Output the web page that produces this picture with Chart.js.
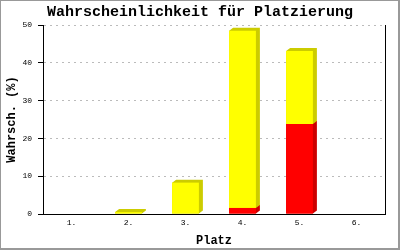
<!DOCTYPE html>
<html>
<head>
<meta charset="utf-8">
<script src="https://cdn.jsdelivr.net/npm/chart.js@4"></script>
<style>
  html,body{margin:0;padding:0;background:#fff;}
  #wrap{width:400px;height:250px;}
</style>
</head>
<body>
<div id="wrap"><canvas id="myChart" width="400" height="250"></canvas></div>
<script>
'use strict';

// data
let places=['1.','2.','3.','4.','5.','6.'];
let redValues=[0,0,0,1.6,23.8,0];
let yellowValues=[0,0.5,8.3,46.9,19.3,0];
let yTicks=[0,10,20,30,40,50];

let mono='"Liberation Mono", "DejaVu Sans Mono", monospace';

// fake 3d sides behind each bar
let depthPlugin={
    id:'depth',
    beforeDatasetsDraw(chart){
        let ctx=chart.ctx;
        let dx=4, dy=3;
        chart.data.datasets.forEach(function(ds,i){
            let meta=chart.getDatasetMeta(i);
            meta.data.forEach(function(bar){
                let p=bar.getProps(['x','y','base','width'],true);
                let l=p.x-p.width/2, r=p.x+p.width/2;
                let t=Math.min(p.y,p.base), b=Math.max(p.y,p.base);
                if(b-t<0.5) return;
                ctx.save();
                ctx.fillStyle=ds.sideColor;
                ctx.beginPath();
                ctx.moveTo(l,t);
                ctx.lineTo(l+dx,t-dy);
                ctx.lineTo(r+dx,t-dy);
                ctx.lineTo(r+dx,b-dy);
                ctx.lineTo(r,b);
                ctx.lineTo(l,b);
                ctx.closePath();
                ctx.fill();
                ctx.restore();
            });
        });
    },
    afterDraw(chart){
        let ctx=chart.ctx;
        ctx.save();
        // gray outer frame
        ctx.fillStyle='#999';
        ctx.fillRect(0,0,400,1);
        ctx.fillRect(0,0,1,250);
        ctx.fillRect(398,0,2,250);
        ctx.fillRect(0,248,400,2);
        ctx.restore();
    }
};

let ctx=document.getElementById('myChart');
let myChart=new Chart(ctx,{
    type:'bar',
    data:{
        labels:places,
        datasets:[{
            label:'rot',
            data:redValues,
            backgroundColor:'#ff0000',
            sideColor:'#cc0000',
            barPercentage:0.47,
            categoryPercentage:1
        },{
            label:'gelb',
            data:yellowValues,
            backgroundColor:'#ffff00',
            sideColor:'#cccc00',
            barPercentage:0.47,
            categoryPercentage:1
        }]
    },
    options:{
        responsive:false,
        animation:false,
        layout:{padding:0},
        plugins:{
            legend:{display:false},
            tooltip:{enabled:false},
            title:{
                display:true,
                text:'Wahrscheinlichkeit für Platzierung',
                color:'#000',
                font:{family:mono,size:15,weight:'bold',lineHeight:1},
                padding:{top:5,bottom:5}
            }
        },
        scales:{
            x:{
                stacked:true,
                grid:{display:false,drawTicks:false},
                border:{display:true,color:'#000',width:1},
                ticks:{color:'#000',font:{family:mono,size:8},padding:4},
                title:{
                    display:true,
                    text:'Platz',
                    color:'#000',
                    font:{family:mono,size:12,weight:'bold'},
                    padding:{top:2,bottom:2}
                },
                afterFit(scale){scale.height=36;}
            },
            y:{
                stacked:true,
                min:0,
                max:50,
                afterBuildTicks(scale){scale.ticks=yTicks.map(v=>({value:v}));},
                grid:{
                    color:'#bbbbbb',
                    tickColor:'#000',
                    tickBorderDash:[],
                    tickLength:5
                },
                border:{display:true,color:'#000',width:1,dash:[2,4]},
                ticks:{color:'#000',font:{family:mono,size:8},padding:6},
                title:{
                    display:true,
                    text:'Wahrsch. (%)',
                    color:'#000',
                    font:{family:mono,size:12,weight:'bold'},
                    padding:{top:5,bottom:2}
                },
                afterFit(scale){scale.width=43;}
            },
            // right frame line of the plot
            y2:{
                position:'right',
                min:0,
                max:50,
                grid:{display:false,drawTicks:false},
                ticks:{display:false},
                border:{display:true,color:'#000',width:1},
                afterFit(scale){scale.width=15;}
            }
        }
    },
    plugins:[depthPlugin]
});
</script>
</body>
</html>
